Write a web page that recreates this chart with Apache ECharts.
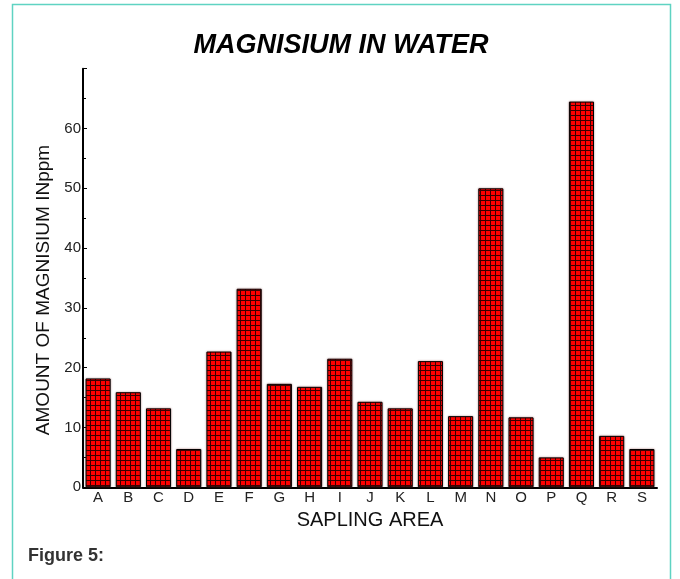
<!DOCTYPE html>
<html>
<head>
<meta charset="utf-8">
<script src="https://cdn.jsdelivr.net/npm/echarts@6/dist/echarts.min.js"></script>
<style>
  html, body { margin: 0; padding: 0; background: #fff; }
  #chart { width: 680px; height: 579px; }
</style>
</head>
<body>
<div id="chart"></div>
<script>
const areas = ['A', 'B', 'C', 'D', 'E', 'F', 'G', 'H', 'I', 'J', 'K', 'L', 'M', 'N', 'O', 'P', 'Q', 'R', 'S'];
const magnesium = [18.2, 15.9, 13.2, 6.4, 22.7, 33.2, 17.3, 16.8, 21.5, 14.3, 13.2, 21.1, 11.9, 50.0, 11.7, 5.0, 64.5, 8.6, 6.4];
const yTicks = [0, 10, 20, 30, 40, 50, 60];

// red fill with a black grid, like the hatched bars
const tile = document.createElement('canvas');
tile.width = 5;
tile.height = 5;
const ctx = tile.getContext('2d');
ctx.fillStyle = '#ff0000';
ctx.fillRect(0, 0, 5, 5);
ctx.fillStyle = '#3a0000';
ctx.fillRect(0, 0, 5, 1);
ctx.fillRect(0, 0, 1, 5);

const chart = echarts.init(document.getElementById('chart'));
const option = {
    animation: false,
    backgroundColor: '#fff',
    title: {
        text: 'MAGNISIUM IN WATER',
        left: 336,
        top: 27,
        textAlign: 'center',
        textStyle: {
            fontFamily: 'Liberation Sans',
            fontSize: 27,
            fontStyle: 'italic',
            fontWeight: 'bold',
            color: '#000'
        }
    },
    graphic: [
        {
            type: 'rect',
            shape: { x: 12.5, y: 4.5, width: 658, height: 600 },
            style: { fill: 'none', stroke: '#5fd3c2', lineWidth: 1.5 },
            silent: true
        },
        {
            type: 'text',
            left: 28,
            top: 547,
            style: {
                text: 'Figure 5:',
                fontFamily: 'Liberation Sans',
                fontSize: 18,
                fontWeight: 'bold',
                fill: '#333'
            }
        }
    ],
    grid: {
        left: 83,
        right: 23,
        top: 68.7,
        bottom: 91.7
    },
    xAxis: {
        type: 'category',
        data: areas,
        name: 'SAPLING AREA',
        nameLocation: 'middle',
        nameGap: 22,
        nameTextStyle: {
            fontFamily: 'Liberation Sans',
            fontSize: 20,
            color: '#111'
        },
        axisLine: { lineStyle: { color: '#000', width: 2 } },
        axisTick: { show: false },
        axisLabel: {
            margin: 3,
            fontFamily: 'Liberation Sans',
            fontSize: 15,
            color: '#222'
        }
    },
    yAxis: {
        type: 'value',
        min: 0,
        max: 70,
        interval: 10,
        name: 'AMOUNT OF MAGNISIUM INppm',
        nameLocation: 'middle',
        nameRotate: 90,
        nameGap: 29,
        nameTextStyle: {
            fontFamily: 'Liberation Sans',
            fontSize: 19,
            color: '#111',
            padding: [0, 24, 0, 0]
        },
        axisLine: { show: true, lineStyle: { color: '#000', width: 2 } },
        axisTick: { show: true, inside: true, length: 4, lineStyle: { color: '#000' } },
        minorTick: { show: true, splitNumber: 2, length: 3, lineStyle: { color: '#000' } },
        splitLine: { show: false },
        axisLabel: {
            margin: 2,
            fontFamily: 'Liberation Sans',
            fontSize: 15,
            color: '#222',
            formatter: v => (yTicks.indexOf(v) >= 0 ? String(v) : '')
        }
    },
    series: [
        {
            type: 'bar',
            data: magnesium,
            barCategoryGap: '17%',
            itemStyle: {
                color: { image: tile, repeat: 'repeat' },
                borderColor: '#000',
                borderWidth: 1,
                shadowColor: 'rgba(120, 40, 40, 0.45)',
                shadowBlur: 2
            }
        }
    ]
};
chart.setOption(option);
</script>
</body>
</html>
